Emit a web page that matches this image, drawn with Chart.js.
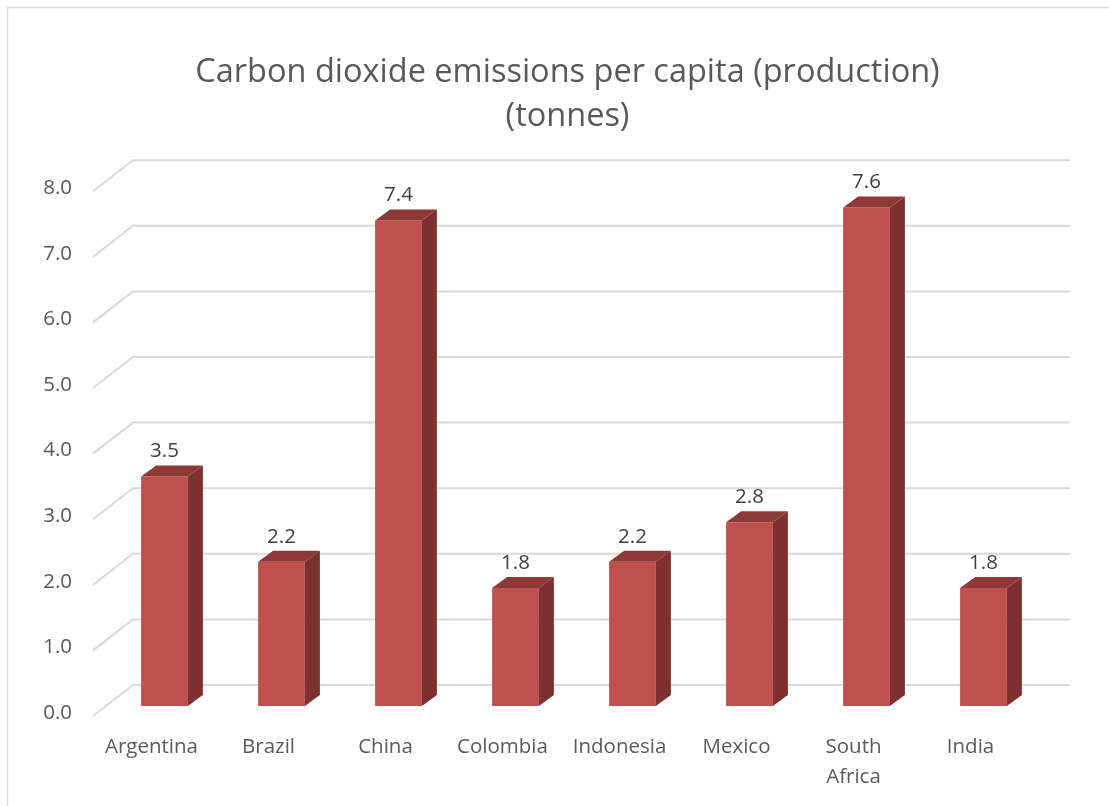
<!DOCTYPE html>
<html>
<head>
<meta charset="utf-8">
<script src="https://cdn.jsdelivr.net/npm/chart.js@4/dist/chart.umd.min.js"></script>
<style>
  html, body { margin: 0; padding: 0; background: #ffffff; }
  canvas { display: block; }
</style>
</head>
<body>
<canvas id="c" width="1109" height="806"></canvas>
<script>
// Chart text and data
const titleLines = ['Carbon dioxide emissions per capita (production)', '(tonnes)'];
const countries = ['Argentina', 'Brazil', 'China', 'Colombia', 'Indonesia', 'Mexico', ['South', 'Africa'], 'India'];
const co2PerCapita = [3.5, 2.2, 7.4, 1.8, 2.2, 2.8, 7.6, 1.8];
const yTicks = [0, 1, 2, 3, 4, 5, 6, 7, 8];

// Look of the pseudo-3D columns
const FONT = '"Open Sans", "Noto Sans", sans-serif';
const FRONT = '#C0504D';
const SIDE = '#7C3130';
const TOP = '#8D3937';
const GRID = '#D9D9D9';
const TEXT = '#595959';
const DEPTH_X = 15, DEPTH_Y = 11;         // bar depth
const BACK_X = 27, BACK_Y = 21;           // bar front plane -> back wall
const FRONT_X = 13, FRONT_Y = 10;         // bar front plane -> floor front edge

const frame = {
  id: 'frame',
  beforeDraw(chart) {
    const ctx = chart.ctx;
    ctx.save();
    ctx.fillStyle = '#ffffff';
    ctx.fillRect(0, 0, chart.width, chart.height);
    ctx.strokeStyle = GRID;
    ctx.lineWidth = 1.5;
    ctx.strokeRect(7.5, 7.5, chart.width + 20, chart.height + 20);
    // two-line title, centred over the floor's front edge
    const a = chart.chartArea;
    const cx = (a.left - FRONT_X + a.right) / 2;
    ctx.fillStyle = TEXT;
    ctx.font = '32.5px ' + FONT;
    ctx.textAlign = 'center';
    ctx.textBaseline = 'middle';
    titleLines.forEach((t, i) => ctx.fillText(t, cx, 73 + i * 44));
    ctx.restore();
  }
};

const walls = {
  id: 'walls',
  beforeDatasetsDraw(chart) {
    const ctx = chart.ctx, y = chart.scales.y, a = chart.chartArea;
    ctx.save();
    ctx.strokeStyle = GRID;
    ctx.lineWidth = 2;
    yTicks.forEach(v => {
      const p = y.getPixelForValue(v);
      ctx.beginPath();
      ctx.moveTo(a.left - FRONT_X, p + FRONT_Y);
      ctx.lineTo(a.left + BACK_X, p - BACK_Y);
      ctx.lineTo(a.right + BACK_X + 1, p - BACK_Y);
      ctx.stroke();
    });
    ctx.restore();
  }
};

const columns3d = {
  id: 'columns3d',
  afterDatasetsDraw(chart) {
    const ctx = chart.ctx;
    const meta = chart.getDatasetMeta(0);
    const values = chart.data.datasets[0].data;
    ctx.save();
    meta.data.forEach((bar, i) => {
      const p = bar.getProps(['x', 'y', 'base', 'width'], true);
      const l = p.x - p.width / 2, r = p.x + p.width / 2;
      // right side face
      ctx.fillStyle = SIDE;
      ctx.beginPath();
      ctx.moveTo(r, p.y);
      ctx.lineTo(r + DEPTH_X, p.y - DEPTH_Y);
      ctx.lineTo(r + DEPTH_X, p.base - DEPTH_Y);
      ctx.lineTo(r, p.base);
      ctx.closePath();
      ctx.fill();
      // top face
      ctx.fillStyle = TOP;
      ctx.beginPath();
      ctx.moveTo(l, p.y);
      ctx.lineTo(l + DEPTH_X, p.y - DEPTH_Y);
      ctx.lineTo(r + DEPTH_X, p.y - DEPTH_Y);
      ctx.lineTo(r, p.y);
      ctx.closePath();
      ctx.fill();
      // value label
      ctx.fillStyle = '#404040';
      ctx.font = '20.5px ' + FONT;
      ctx.textAlign = 'center';
      ctx.textBaseline = 'middle';
      ctx.fillText(values[i].toFixed(1), p.x, p.y - 25);
    });
    ctx.restore();
  }
};

new Chart(document.getElementById('c'), {
  type: 'bar',
  data: {
    labels: countries,
    datasets: [{
      data: co2PerCapita,
      backgroundColor: FRONT,
      borderWidth: 0,
      barPercentage: 0.4,
      categoryPercentage: 1.0
    }]
  },
  options: {
    responsive: false,
    animation: false,
    devicePixelRatio: 1,
    layout: { padding: { left: 0, right: 67, top: 181.2, bottom: 0 } },
    plugins: {
      legend: { display: false },
      tooltip: { enabled: false },
      title: { display: false }
    },
    scales: {
      x: {
        grid: { display: false, drawTicks: false },
        border: { display: false },
        ticks: {
          color: TEXT,
          font: { family: FONT, size: 20.5, lineHeight: 1.42 },
          padding: 27,
          labelOffset: -FRONT_X,
          maxRotation: 0,
          autoSkip: false
        },
        afterFit(s) { s.height = 100; }
      },
      y: {
        min: 0,
        max: 8,
        grid: { display: false, drawTicks: false },
        border: { display: false },
        ticks: {
          stepSize: 1,
          color: TEXT,
          font: { family: FONT, size: 20.5 },
          padding: 34,
          labelOffset: 7,
          callback: v => Number(v).toFixed(1)
        },
        afterFit(s) { s.width = 106; }
      }
    }
  },
  plugins: [frame, walls, columns3d]
});
</script>
</body>
</html>
